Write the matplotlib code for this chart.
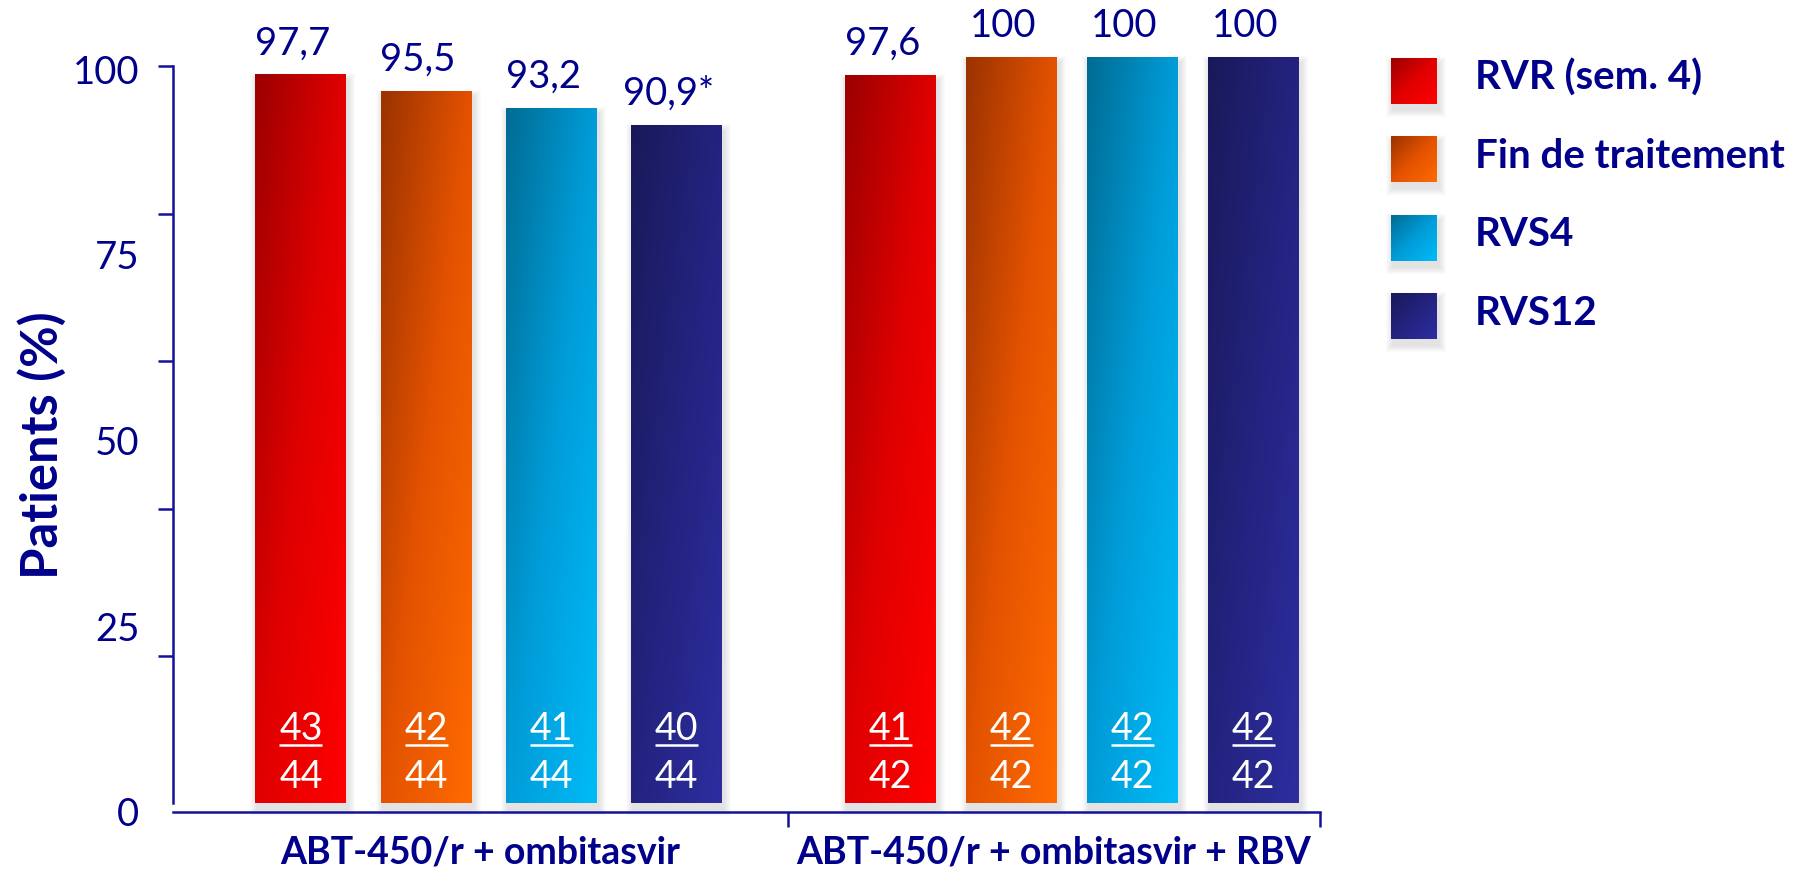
import matplotlib
matplotlib.use("Agg")
import matplotlib.pyplot as plt
import numpy as np
from matplotlib.colors import LinearSegmentedColormap
from matplotlib.patches import Rectangle

# response rates (%) per arm and time point
series = ["RVR (sem. 4)", "Fin de traitement", "RVS4", "RVS12"]
groups = ["ABT-450/r + ombitasvir", "ABT-450/r + ombitasvir + RBV"]
pct_mono = [97.7, 95.5, 93.2, 90.9]
pct_rbv = [97.6, 100, 100, 100]
resp_mono = [43, 42, 41, 40]
resp_rbv = [41, 42, 42, 42]
n_arm = [44, 42]
flag_mono = ["", "", "", "*"]
flag_rbv = ["", "", "", ""]
ytick_vals = [20, 40, 60, 80, 100]
ylabel_vals = [0, 25, 50, 75, 100]

# dark / mid / light stops for the diagonal fills
ramps = [
    ("#9c0000", "#e00000", "#ff0000"),
    ("#9c3300", "#e35200", "#ff6a00"),
    ("#006c94", "#009cd8", "#00bbf7"),
    ("#19195a", "#23237f", "#2d2da0"),
]
cmaps = [LinearSegmentedColormap.from_list("r%d" % i, c) for i, c in enumerate(ramps)]

NAVY = "#00008b"
LINE = "#121299"

plt.rcParams["font.family"] = ["Lato", "DejaVu Sans"]

fig = plt.figure(figsize=(17.95, 8.71), dpi=100)
ax = fig.add_axes([0.0962, 0.0681, 0.6392, 0.9319])
ax.set_xlim(0, 9.482)
ax.set_ylim(0, 107.65)

# size of one pixel in data units
sx = 9.482 / (0.6392 * 1795)
sy = 107.65 / (0.9319 * 871)


def diag_gradient(cmap, nx=32, ny=160):
    uu, vv = np.meshgrid(np.linspace(0, 1, nx), np.linspace(0, 1, ny))
    return cmap((uu + vv) / 2)


def soft_shadow(axis, x0, y0, w, h, px, py, z):
    # faint blurred drop shadow, pushed down and slightly right
    for k in range(1, 8):
        axis.add_patch(Rectangle((x0 + 2 * px - k * px, y0 - 6 * py - k * py),
                                 w + 2 * k * px, h + 2 * k * py,
                                 facecolor="black", edgecolor="none", alpha=0.014,
                                 zorder=z, clip_on=False))


width = 0.752
bases = [1.06, 5.93]
steps = [1.035, 1.0]
arms = [(pct_mono, resp_mono, flag_mono), (pct_rbv, resp_rbv, flag_rbv)]

for g, (pcts, resp, flags) in enumerate(arms):
    xs = [bases[g] + steps[g] * i for i in range(len(pcts))]
    bars = ax.bar(xs, pcts, width=width, color="none", edgecolor="none", zorder=3)
    for i, b in enumerate(bars):
        x0, h = b.get_x(), b.get_height()
        soft_shadow(ax, x0, 0, width, h, sx, sy, 1)
        im = ax.imshow(diag_gradient(cmaps[i]), extent=(x0, x0 + width, 0, h),
                       origin="upper", aspect="auto", interpolation="bilinear", zorder=2)
        im.set_clip_path(b)
        xc = x0 + width / 2
        txt = ("%g" % pcts[i]).replace(".", ",") + flags[i]
        ax.annotate(txt, (xc, h), xytext=(-5.8, 14.4), textcoords="offset points",
                    ha="center", va="baseline", fontsize=27.5, color=NAVY, zorder=5)
        # responders / patients
        ax.text(xc, 63.7 * sy, str(resp[i]), ha="center", va="baseline",
                fontsize=27, color="white", zorder=5)
        ax.plot([xc - 21.5 * sx, xc + 21.5 * sx], [59 * sy, 59 * sy], color="white",
                lw=1.8, solid_capstyle="butt", zorder=5)
        ax.text(xc, 15.7 * sy, str(n_arm[g]), ha="center", va="baseline",
                fontsize=27, color="white", zorder=5)

ax.set_xlim(0, 9.482)
ax.set_ylim(0, 107.65)

# axis ticks every 20, labels every 25
tick_k = 0.9877
ax.set_yticks([tick_k * v for v in ytick_vals])
ax.set_yticklabels([])
ax.set_yticks([0.9947 * v - 1.1 for v in ylabel_vals],
              [str(v) for v in ylabel_vals], minor=True)
ax.tick_params(axis="y", which="major", length=10.8, width=1.8, color=LINE, direction="out")
ax.tick_params(axis="y", which="minor", length=0, pad=24, labelsize=27.5, labelcolor=NAVY)

seps = [5.083, 9.482]
ax.set_xticks([seps[0] / 2, (seps[0] + seps[1]) / 2], groups)
ax.set_xticks(seps, minor=True)
ax.tick_params(axis="x", which="major", length=0, pad=17, labelsize=27, labelcolor=NAVY)
ax.tick_params(axis="x", which="minor", length=10.8, width=1.8, color=LINE, direction="out")
for lbl in ax.get_xticklabels():
    lbl.set_fontweight("bold")

for side in ["top", "right"]:
    ax.spines[side].set_visible(False)
for side in ["left", "bottom"]:
    ax.spines[side].set_color(LINE)
    ax.spines[side].set_linewidth(1.8)
ax.spines["left"].set_bounds(0, tick_k * 100)

ax.set_ylabel("Patients (%)", fontsize=36.5, fontweight="bold", color=NAVY)
ax.yaxis.set_label_coords(-0.092, 0.452)

# legend drawn in pixel space on an overlay
lax = fig.add_axes([0, 0, 1, 1])
lax.set_xlim(0, 1795)
lax.set_ylim(871, 0)
lax.axis("off")
lax.patch.set_alpha(0)
for i, name in enumerate(series):
    top = 58 + 78.4 * i
    soft_shadow(lax, 1391, top + 46, 46, -46, 1, -1, 1)
    lax.imshow(diag_gradient(cmaps[i], 32, 32), extent=(1391, 1437, top + 46, top),
               origin="upper", aspect="auto", interpolation="bilinear", zorder=2)
    lax.text(1475, top + 31.3, name, va="baseline", ha="left", fontsize=29,
             fontweight="bold", color=NAVY)
lax.set_xlim(0, 1795)
lax.set_ylim(871, 0)

fig.savefig("out.png", dpi=100)
